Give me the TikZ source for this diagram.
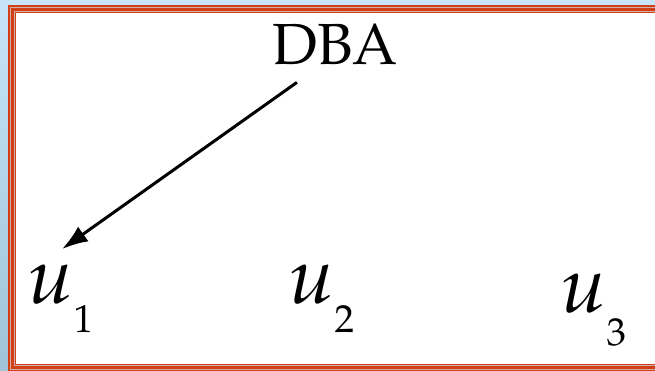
\documentclass[tikz,border=0pt]{standalone}
\usepackage[T1]{fontenc}
\usepackage{mathpazo}
\usetikzlibrary{arrows.meta}

\definecolor{bgtop}{RGB}{198,229,246}
\definecolor{bgbot}{RGB}{160,195,218}
\definecolor{framered}{RGB}{212,62,22}
\definecolor{framegray}{RGB}{205,178,168}

\newcommand{\uvar}[2]{{\fontsize{80}{90}\selectfont$u$}\raisebox{-#2pt}{\fontsize{39}{40}\selectfont #1}}

\begin{document}
\begin{tikzpicture}[x=1pt, y=-1pt, >={Latex[length=26pt,width=18pt]}, lbl/.style={inner sep=0pt, anchor=base west}]
	\useasboundingbox (0,0) rectangle (655,371);
	\clip (0,0) rectangle (655,371);
	% background and frame
	\shade[top color=bgtop, bottom color=bgbot] (0,0) rectangle (655,371);
	\fill[framered] (8,5) rectangle (672,372);
	\fill[framegray] (10,7) rectangle (670,370);
	\fill[framered] (11.3,8.3) rectangle (668.7,368.7);
	\fill[framegray] (14,11) rectangle (666,366);
	\fill[framered] (15,12) rectangle (665,365);
	\fill[white] (16,13) rectangle (664,364);
	% labels
	\node[lbl] (dba) at (272,65) {\fontsize{58}{60}\selectfont DBA};
	\node[lbl] (u1) at (27,303) {\uvar{1}{29}};
	\node[lbl] (u2) at (288,303) {\uvar{2}{29}};
	\node[lbl] (u3) at (560,312) {\uvar{3}{33}};
	\draw[->, line width=3pt] ([xshift=-38pt, yshift=-17pt]dba.south) -- ([xshift=35pt, yshift=15pt]u1.north west);
\end{tikzpicture}
\end{document}
